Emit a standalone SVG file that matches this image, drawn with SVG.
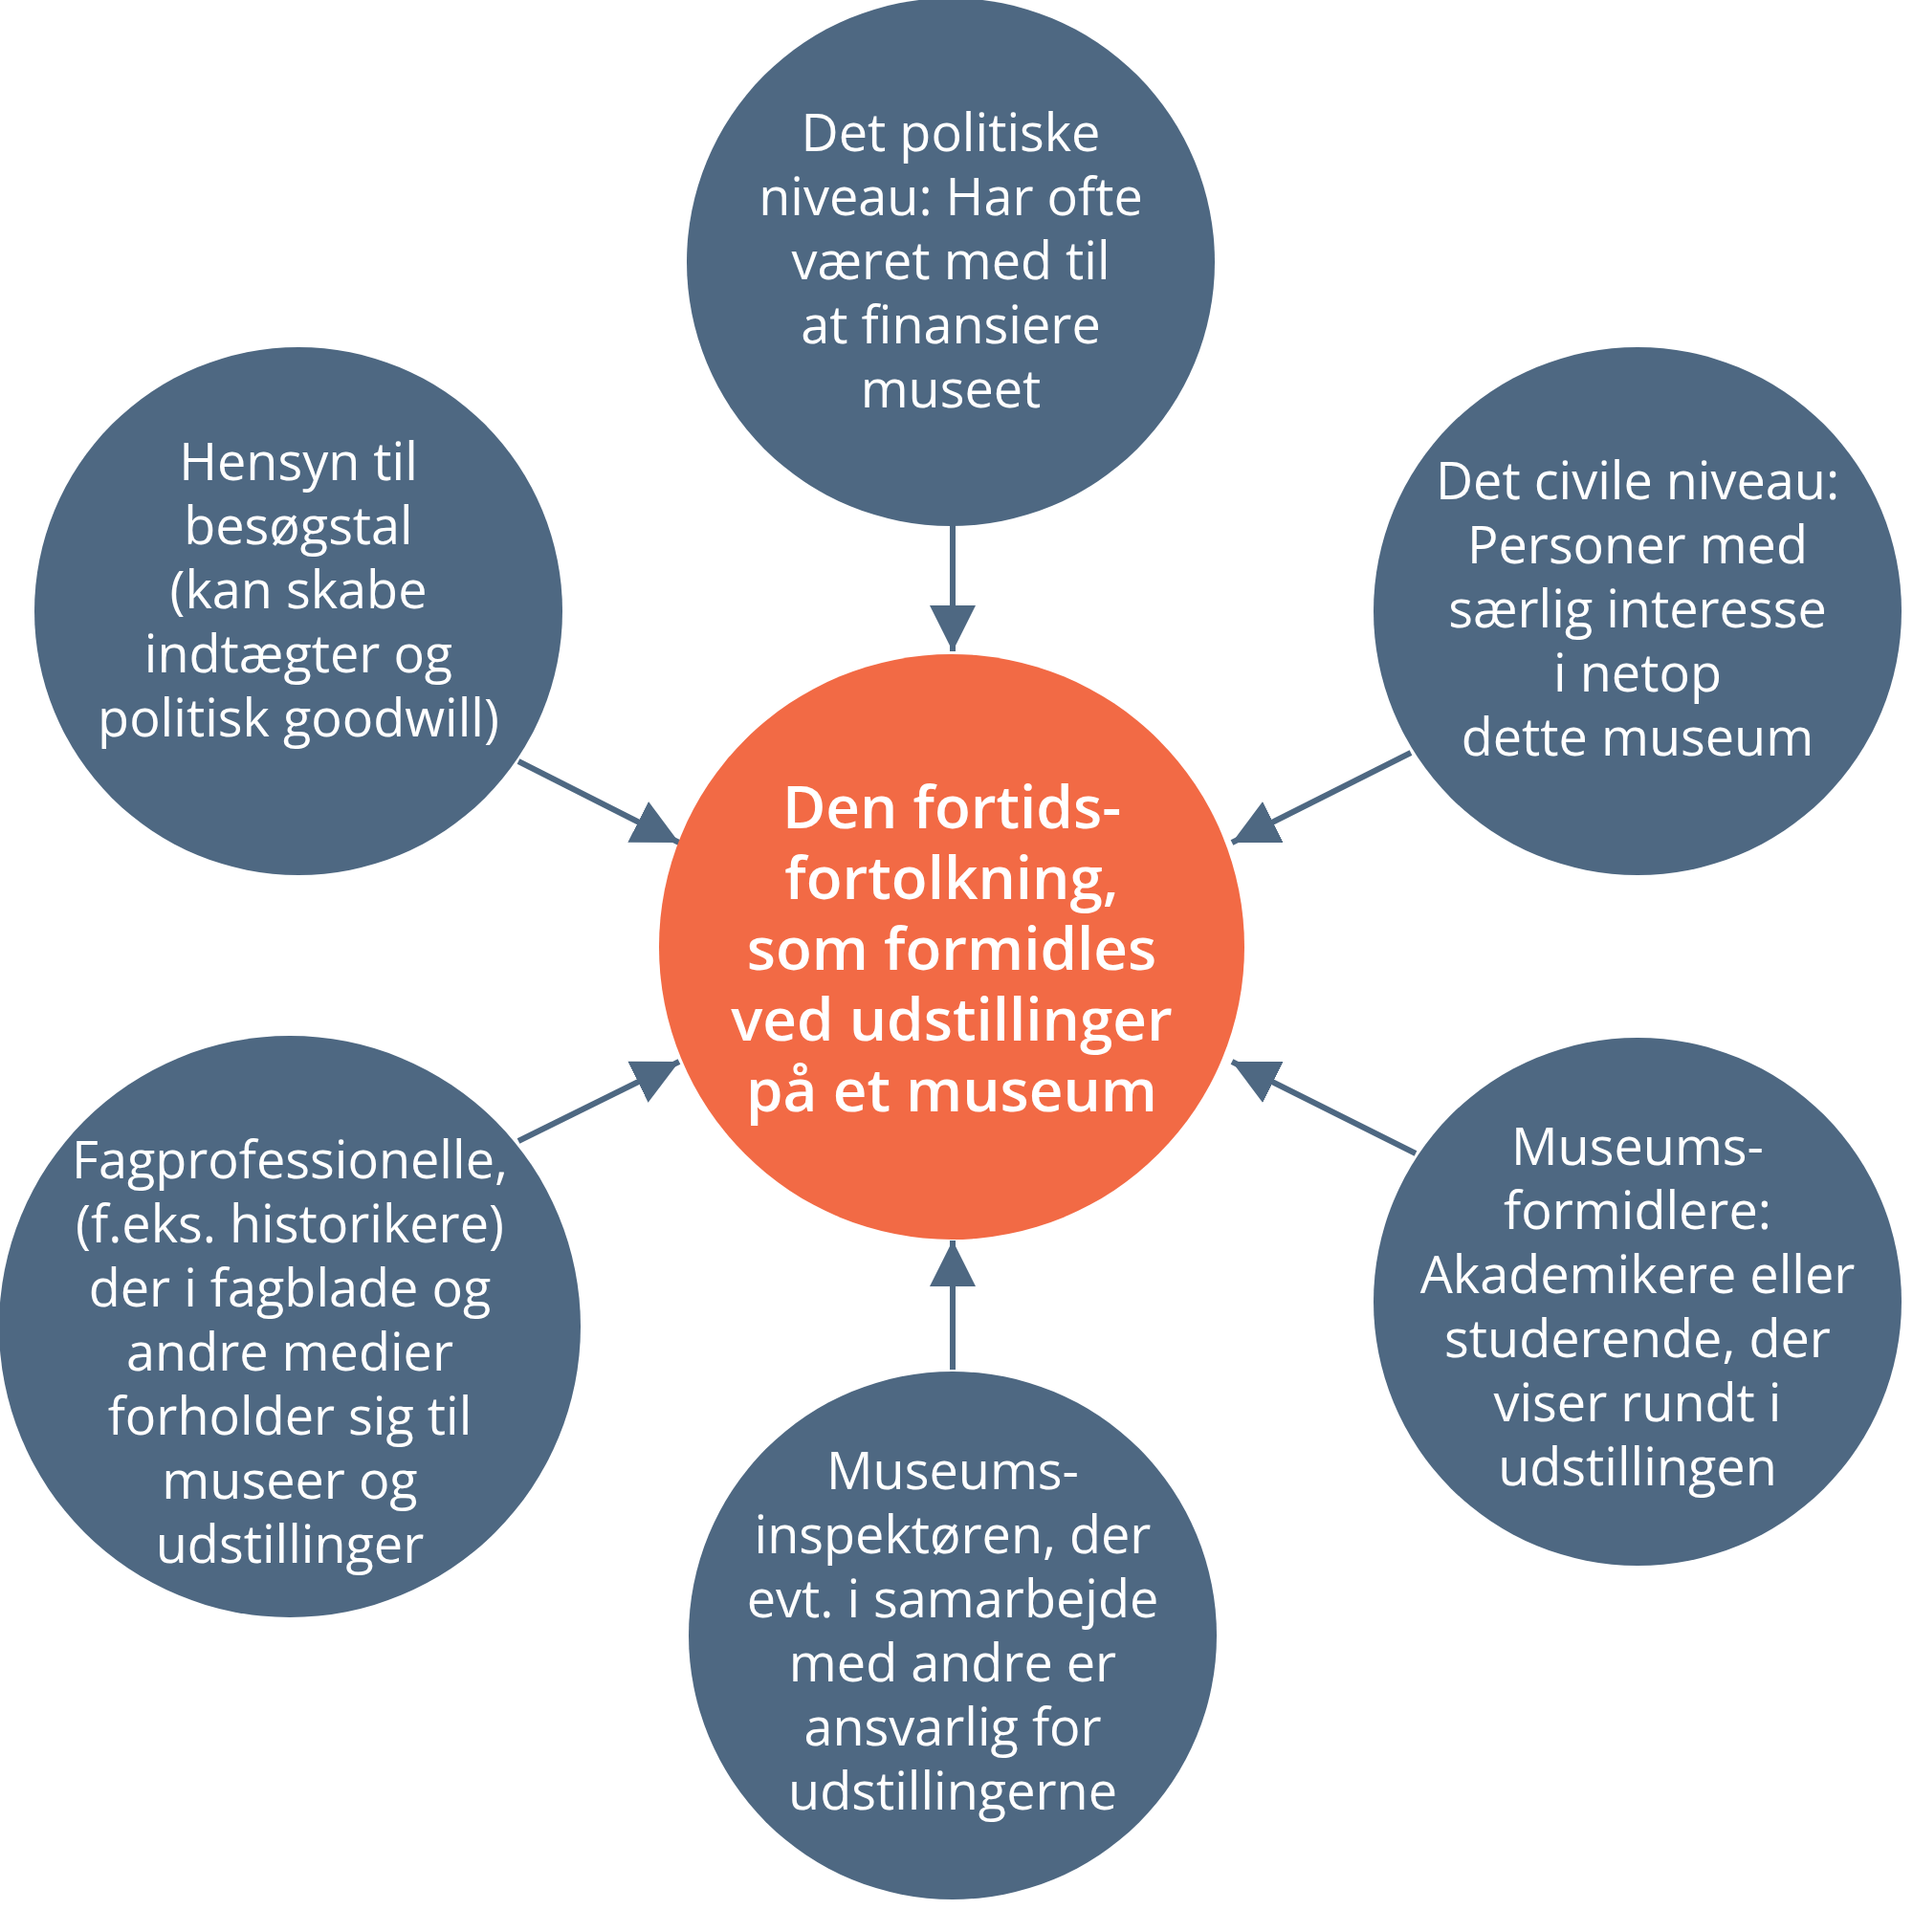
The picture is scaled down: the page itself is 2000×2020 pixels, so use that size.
<svg xmlns="http://www.w3.org/2000/svg" width="2000" height="2020" viewBox="0 0 2000 2020">
<style>
.n{fill:#4e6882}
.c{fill:#f26a45}
text{font-family:"Open Sans","Noto Sans",sans-serif;fill:#fff;text-anchor:middle}
.t{font-size:54px}
.ct{font-size:62px;font-weight:600}
.e{stroke:#4e6882;stroke-width:6;fill:none;marker-end:url(#a)}
</style>
<defs><marker id="a" viewBox="0 0 10 10" refX="10" refY="5" markerWidth="8" markerHeight="9" markerUnits="strokeWidth" orient="auto"><path d="M0,0L10,5L0,10z" fill="#4e6882"/></marker></defs>
<rect width="2000" height="2020" fill="#fff"/>
<g id="connectors">
<line class="e" x1="996" y1="548" x2="996" y2="681"/>
<line class="e" x1="542" y1="796" x2="710" y2="881"/>
<line class="e" x1="1475" y1="787" x2="1288" y2="881"/>
<line class="e" x1="542" y1="1193" x2="710" y2="1110"/>
<line class="e" x1="1480" y1="1206" x2="1288" y2="1110"/>
<line class="e" x1="996" y1="1432" x2="996" y2="1297"/>
</g>
<g id="center"><circle class="c" cx="995" cy="990" r="306"/>
<text class="ct"><tspan x="995" y="866">Den fortids-</tspan><tspan x="995" y="940">fortolkning,</tspan><tspan x="995" y="1014">som formidles</tspan><tspan x="995" y="1088">ved udstillinger</tspan><tspan x="995" y="1162">på et museum</tspan></text></g>
<g id="top"><circle class="n" cx="994" cy="274" r="276"/>
<text class="t"><tspan x="994" y="158">Det politiske</tspan><tspan x="994" y="225">niveau: Har ofte</tspan><tspan x="994" y="292">været med til</tspan><tspan x="994" y="359">at finansiere</tspan><tspan x="994" y="426">museet</tspan></text></g>
<g id="lefttop"><circle class="n" cx="312" cy="639" r="276"/>
<text class="t"><tspan x="312" y="502">Hensyn til</tspan><tspan x="312" y="569">besøgstal</tspan><tspan x="312" y="636">(kan skabe</tspan><tspan x="312" y="703">indtægter og</tspan><tspan x="312" y="770">politisk goodwill)</tspan></text></g>
<g id="righttop"><circle class="n" cx="1712" cy="639" r="276"/>
<text class="t"><tspan x="1712" y="522">Det civile niveau:</tspan><tspan x="1712" y="589">Personer med</tspan><tspan x="1712" y="656">særlig interesse</tspan><tspan x="1712" y="723">i netop</tspan><tspan x="1712" y="790">dette museum</tspan></text></g>
<g id="leftbottom"><circle class="n" cx="303" cy="1387" r="304"/>
<text class="t"><tspan x="303" y="1232">Fagprofessionelle,</tspan><tspan x="303" y="1299">(f.eks. historikere)</tspan><tspan x="303" y="1366">der i fagblade og</tspan><tspan x="303" y="1433">andre medier</tspan><tspan x="303" y="1500">forholder sig til</tspan><tspan x="303" y="1567">museer og</tspan><tspan x="303" y="1634">udstillinger</tspan></text></g>
<g id="rightbottom"><circle class="n" cx="1712" cy="1361" r="276"/>
<text class="t"><tspan x="1712" y="1218">Museums-</tspan><tspan x="1712" y="1285">formidlere:</tspan><tspan x="1712" y="1352">Akademikere eller</tspan><tspan x="1712" y="1419">studerende, der</tspan><tspan x="1712" y="1486">viser rundt i</tspan><tspan x="1712" y="1553">udstillingen</tspan></text></g>
<g id="bottom"><circle class="n" cx="996" cy="1710" r="276"/>
<text class="t"><tspan x="996" y="1557">Museums-</tspan><tspan x="996" y="1624">inspektøren, der</tspan><tspan x="996" y="1691">evt. i samarbejde</tspan><tspan x="996" y="1758">med andre er</tspan><tspan x="996" y="1825">ansvarlig for</tspan><tspan x="996" y="1892">udstillingerne</tspan></text></g>
</svg>
